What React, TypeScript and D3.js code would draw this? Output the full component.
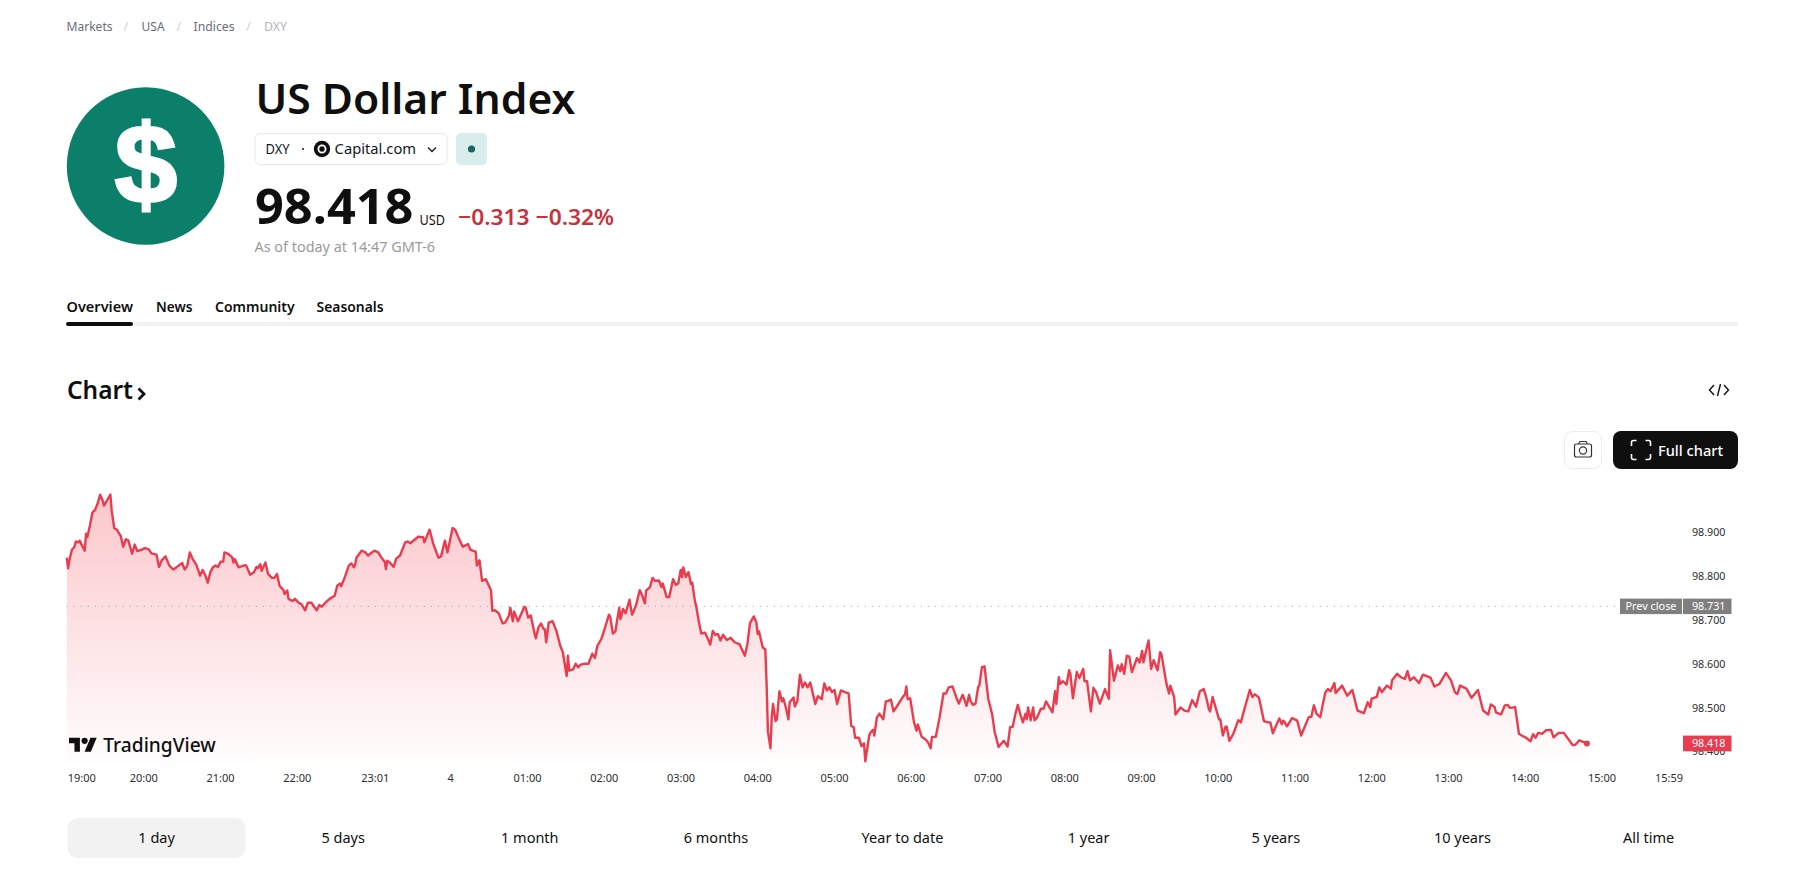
import React from 'react';
import * as d3 from 'd3';

const evening: [number, number][] = [[0,98.842],[1,98.818],[2,98.836],[4,98.860],[6,98.867],[7,98.879],[9,98.877],[10,98.881],[12,98.869],[14,98.858],[15,98.897],[16,98.889],[18,98.915],[20,98.945],[22,98.951],[24,98.965],[26,98.986],[28,98.972],[29,98.961],[32,98.976],[34,98.986],[35,98.950],[37,98.910],[39,98.906],[42,98.892],[44,98.867],[46,98.884],[48,98.881],[51,98.851],[53,98.872],[55,98.857],[58,98.860],[61,98.864],[64,98.861],[66,98.852],[70,98.849],[72,98.821],[74,98.836],[77,98.845],[80,98.824],[83,98.815],[86,98.821],[90,98.830],[92,98.815],[94,98.824],[96,98.854],[98,98.840],[101,98.826],[104,98.801],[106,98.814],[108,98.802],[110,98.785],[112,98.809],[114,98.820],[116,98.824],[118,98.821],[120,98.833],[122,98.833],[123,98.854],[126,98.851],[129,98.843],[130,98.831],[131,98.839],[134,98.820],[139,98.825],[140,98.824],[143,98.803],[146,98.809],[148,98.821],[149,98.818],[151,98.827],[152,98.812],[155,98.831],[157,98.805],[160,98.796],[162,98.796],[164,98.805],[166,98.778],[169,98.768],[170,98.759],[172,98.767],[173,98.748],[176,98.743],[178,98.748],[181,98.739],[183,98.736],[186,98.722],[188,98.739],[191,98.739],[192,98.734],[195,98.722],[197,98.734],[199,98.730],[201,98.737],[205,98.748],[209,98.755],[211,98.778],[213,98.783],[214,98.777],[217,98.798],[220,98.824],[222,98.829],[224,98.820],[225,98.827],[226,98.842],[230,98.858],[233,98.854],[235,98.847],[238,98.854],[240,98.858],[243,98.854],[246,98.840],[248,98.833],[249,98.816],[250,98.835],[252,98.831],[255,98.821],[257,98.840],[260,98.847],[264,98.877],[266,98.879],[268,98.875],[273,98.887],[274,98.890],[278,98.889],[279,98.877],[283,98.906],[286,98.873],[290,98.842],[292,98.845],[295,98.881],[297,98.854],[301,98.910],[303,98.906],[305,98.892]];

const overnight: [number, number][] = [[307,98.879],[309,98.867],[313,98.873],[315,98.860],[319,98.856],[320,98.824],[322,98.836],[324,98.789],[327,98.793],[331,98.767],[332,98.721],[334,98.722],[337,98.715],[340,98.692],[342,98.694],[345,98.710],[346,98.728],[348,98.697],[349,98.719],[352,98.697],[354,98.710],[357,98.730],[358,98.728],[360,98.705],[362,98.710],[365,98.668],[366,98.658],[368,98.683],[370,98.692],[372,98.679],[373,98.679],[374,98.649],[376,98.694],[379,98.697],[382,98.675],[385,98.641],[387,98.626],[390,98.572],[391,98.618],[392,98.584],[395,98.587],[397,98.600],[399,98.592],[401,98.598],[404,98.600],[407,98.600],[410,98.623],[412,98.613],[414,98.641],[417,98.656],[420,98.683],[423,98.712],[424,98.707],[426,98.669],[428,98.674],[431,98.728],[432,98.702],[434,98.725],[436,98.715],[439,98.746],[441,98.712],[444,98.732],[447,98.768],[449,98.755],[451,98.738],[452,98.767],[455,98.775],[457,98.796],[459,98.789],[462,98.790],[464,98.775],[465,98.783],[468,98.752],[470,98.752],[473,98.793],[475,98.780],[477,98.783],[479,98.814],[480,98.798],[481,98.820],[483,98.798],[485,98.809],[487,98.782],[488,98.785],[490,98.744],[491,98.732],[493,98.698],[495,98.669],[498,98.671],[501,98.651],[502,98.644],[504,98.675],[506,98.666],[508,98.668],[510,98.653],[512,98.666],[515,98.654],[518,98.659],[521,98.649],[525,98.644],[529,98.618],[531,98.645],[533,98.692],[536,98.708],[538,98.694],[539,98.668],[540,98.674],[543,98.637],[545,98.633],[546,98.554],[547,98.446],[549,98.407],[550,98.477],[551,98.508],[553,98.469],[554,98.473],[556,98.537],[558,98.514],[559,98.521],[561,98.500],[563,98.473],[564,98.512],[567,98.523],[568,98.502],[570,98.515],[572,98.575],[574,98.546],[576,98.557],[578,98.546],[580,98.557],[584,98.508],[586,98.526],[589,98.519],[591,98.555],[593,98.539],[595,98.546],[597,98.535],[599,98.540],[601,98.508],[604,98.539],[607,98.535],[610,98.532],[612,98.458],[614,98.455],[615,98.431],[618,98.431],[620,98.412],[622,98.418],[623,98.377],[626,98.435]];

const morning: [number, number][] = [[627,98.443],[629,98.449],[630,98.436],[632,98.477],[634,98.486],[637,98.473],[639,98.514],[641,98.515],[643,98.518],[645,98.491],[648,98.504],[652,98.523],[654,98.530],[655,98.548],[656,98.519],[658,98.521],[661,98.466],[663,98.447],[664,98.461],[667,98.433],[670,98.427],[672,98.420],[674,98.407],[675,98.433],[678,98.433],[681,98.478],[684,98.532],[686,98.532],[688,98.546],[691,98.548],[694,98.523],[696,98.509],[699,98.529],[702,98.504],[704,98.529],[705,98.515],[707,98.506],[709,98.509],[711,98.546],[712,98.551],[714,98.592],[716,98.594],[719,98.519],[722,98.484],[724,98.443],[727,98.410],[731,98.424],[734,98.411],[736,98.455],[738,98.456],[740,98.484],[742,98.506],[744,98.484],[746,98.466],[748,98.486],[749,98.473],[750,98.500],[752,98.471],[754,98.500],[755,98.471],[757,98.477],[760,98.497],[762,98.497],[764,98.514],[767,98.499],[769,98.489],[771,98.537],[772,98.508],[774,98.569],[775,98.554],[777,98.560],[780,98.552],[782,98.585],[783,98.577],[785,98.521],[788,98.581],[790,98.567],[793,98.588],[794,98.560],[796,98.560],[799,98.491],[801,98.545],[803,98.535],[806,98.509],[810,98.542],[813,98.520],[814,98.631],[817,98.561],[820,98.596],[822,98.583],[823,98.599],[825,98.577],[827,98.618],[829,98.616],[831,98.581],[835,98.613],[837,98.603],[839,98.629],[840,98.603],[842,98.629],[844,98.653],[846,98.588],[848,98.608],[851,98.585],[853,98.626],[854,98.622],[858,98.554],[860,98.532],[861,98.550],[864,98.523],[865,98.484],[869,98.500],[872,98.493],[875,98.491],[878,98.517],[881,98.502],[884,98.537],[887,98.542],[889,98.523],[891,98.497],[892,98.491],[894,98.524],[897,98.493],[899,98.473],[900,98.473],[902,98.436],[904,98.456],[905,98.456],[907,98.424],[910,98.439],[914,98.471],[916,98.466],[919,98.499],[923,98.540],[925,98.524],[927,98.530],[930,98.523],[931,98.511],[934,98.469],[937,98.466],[939,98.466],[941,98.441],[944,98.462],[946,98.475],[948,98.462]];

const afternoon: [number, number][] = [[949,98.470],[950,98.467],[952,98.457],[956,98.476],[960,98.470],[963,98.436],[966,98.457],[969,98.478],[971,98.479],[973,98.505],[975,98.486],[978,98.478],[980,98.508],[982,98.535],[984,98.542],[986,98.537],[989,98.556],[990,98.533],[995,98.550],[999,98.527],[1003,98.540],[1007,98.493],[1012,98.487],[1015,98.512],[1017,98.501],[1018,98.520],[1022,98.524],[1024,98.546],[1026,98.535],[1030,98.550],[1033,98.543],[1034,98.562],[1038,98.577],[1041,98.569],[1044,98.565],[1046,98.583],[1048,98.562],[1051,98.569],[1055,98.556],[1058,98.575],[1064,98.568],[1067,98.548],[1071,98.554],[1076,98.579],[1080,98.562],[1083,98.535],[1085,98.531],[1087,98.550],[1092,98.543],[1096,98.522],[1101,98.540],[1105,98.493],[1109,98.484],[1111,98.507],[1114,98.501],[1115,98.489],[1119,98.484],[1122,98.505],[1124,98.506],[1126,98.499],[1130,98.501],[1133,98.440],[1135,98.436],[1138,98.432],[1142,98.423],[1144,98.439],[1146,98.431],[1148,98.442],[1151,98.440],[1154,98.448],[1158,98.449],[1160,98.432],[1164,98.442],[1168,98.442],[1175,98.414],[1177,98.415],[1180,98.425],[1186,98.418]];

const series = [...evening, ...overnight, ...morning, ...afternoon];
const prevClose = 98.731;
const lastPrice = 98.418;
const priceTicks = [98.9, 98.8, 98.7, 98.6, 98.5, 98.4];
const timeTicks: [string, number][] = [['19:00',0],['20:00',60],['21:00',120],['22:00',180],['23:01',241],['4',300],['01:00',360],['02:00',420],['03:00',480],['04:00',540],['05:00',600],['06:00',660],['07:00',720],['08:00',780],['09:00',840],['10:00',900],['11:00',960],['12:00',1020],['13:00',1080],['14:00',1140],['15:00',1200],['15:59',1259]];
const rangeTabs: [string, number][] = [['1 day',156.6],['5 days',343.2],['1 month',529.8],['6 months',716],['Year to date',902.5],['1 year',1088.6],['5 years',1275.8],['10 years',1462.4],['All time',1648.6]];
const crumbs: [string, number, number][] = [['Markets',66.5,46],['USA',141.6,23],['Indices',193.6,41],['DXY',264,23]];
const navTabs: [string, number, number][] = [['Overview',66.5,66.5],['News',156,36.5],['Community',215,79.7],['Seasonals',316.6,67]];

const FONT = '"Noto Sans", sans-serif';
const x = d3.scaleLinear().domain([0, 1186]).range([66.8, 1586.9]);
const y = d3.scaleLinear().domain([98.9, 98.4]).range([532.3, 751.3]);
const tickX = d3.scaleLinear().domain([60, 1200]).range([143.7, 1602]);
const BASE = 772;
const line = d3.line<[number, number]>().x(d => x(d[0])).y(d => y(d[1]));
const area = d3.area<[number, number]>().x(d => x(d[0])).y0(BASE).y1(d => y(d[1]));
const RED = '#ea3c4f';

function T({ x: tx, y: ty, s, w, size, weight = 400, fill = '#131722', anchor = 'start', family = FONT }: any) {
  return (
    <text x={tx} y={ty} fontSize={size} fontWeight={weight} fill={fill} textAnchor={anchor} fontFamily={family}
      {...(w ? { textLength: w, lengthAdjust: 'spacingAndGlyphs' } : {})}>{s}</text>
  );
}

export default function App() {
  return (
    <svg width={1812} height={887} style={{ position: 'fixed', left: 0, top: 0, background: '#fff' }}>
      <defs>
        <linearGradient id="fade" gradientUnits="userSpaceOnUse" x1="0" x2="0" y1="495" y2={BASE}>
          <stop offset="0" stopColor="#f23645" stopOpacity="0.28" />
          <stop offset="1" stopColor="#f23645" stopOpacity="0" />
        </linearGradient>
      </defs>

      {crumbs.map(([s, cx, w]) => <T key={s} x={cx} y={31} s={s} w={w} size={13} fill={s === 'DXY' ? '#b2b5be' : '#6a6d78'} />)}
      {[126, 179, 248.5].map(v => <T key={v} x={v} y={31} s="/" size={13} fill="#d1d4dc" anchor="middle" />)}

      <circle cx={145.6} cy={166} r={78.8} fill="#0b7f6a" />
      <text x={146} y={203} fontSize={112} fontWeight={700} fill="#fff" stroke="#fff" strokeWidth={3} textAnchor="middle" fontFamily='"Liberation Sans", Arial, sans-serif'>$</text>

      <T x={255.4} y={114} s="US Dollar Index" w={320} size={42} weight={600} fill="#0f0f0f" />

      <rect x={255} y={133.5} width={192} height={31} rx={5} fill="#fff" stroke="#e9e9e9" />
      <T x={265.5} y={154} s="DXY" w={24} size={14} fill="#131722" />
      <circle cx={303} cy={149} r={1} fill="#131722" />
      <circle cx={322} cy={149} r={8.2} fill="#0f0f0f" />
      <circle cx={322} cy={149} r={3.6} fill="none" stroke="#fff" strokeWidth={1.8} />
      <T x={334.6} y={154} s="Capital.com" w={81.5} size={14} fill="#131722" />
      <path d="M428 147.5l4 4 4-4" fill="none" stroke="#131722" strokeWidth={1.3} />
      <rect x={456} y={133} width={31} height={32} rx={5} fill="#d9eeec" />
      <circle cx={471.5} cy={149} r={3.6} fill="#15675e" />

      <T x={255} y={224} s="98.418" w={158.5} size={48} weight={700} fill="#0f0f0f" />
      <T x={419.5} y={225} s="USD" w={25.5} size={14} fill="#0f0f0f" />
      <T x={458} y={225} s="−0.313 −0.32%" w={156} size={22} weight={600} fill="#c7323f" />
      <T x={254.5} y={251.5} s="As of today at 14:47 GMT-6" w={180.5} size={14} fill="#9a9a9a" />

      {navTabs.map(([s, tx, w]) => <T key={s} x={tx} y={312} s={s} w={w} size={14.5} weight={600} fill="#0f0f0f" />)}
      <rect x={66} y={322} width={1672} height={4} fill="#f2f2f2" rx={2} />
      <rect x={66} y={322} width={67} height={4} fill="#0f0f0f" rx={2} />

      <T x={67} y={399} s="Chart" w={66} size={26} weight={600} fill="#0f0f0f" />
      <path d="M138.5 388.500l5.500 5.500-5.500 5.500" fill="none" stroke="#0f0f0f" strokeWidth={2.8} />
      <path d="M1714 385l-4.500 5 4.500 5M1724 385l4.500 5-4.500 5M1717.500 396l3-12" fill="none" stroke="#0f0f0f" strokeWidth={1.4} />

      <rect x={1564.500} y={431.500} width={37} height={37} rx={8} fill="#fff" stroke="#ececec" />
      <rect x={1574.500} y={444} width={17} height={13} rx={2} fill="none" stroke="#333" strokeWidth={1.2} />
      <path d="M1578.500 444l1.500-2.500h6l1.500 2.500" fill="none" stroke="#333" strokeWidth={1.2} />
      <circle cx={1583} cy={450.500} r={3.600} fill="none" stroke="#333" strokeWidth={1.2} />
      <rect x={1613} y={431} width={125} height={38} rx={8} fill="#0f0f0f" />
      <path d="M1631.500 446v-3.500a2 2 0 0 1 2-2h3M1645.500 440.500h3a2 2 0 0 1 2 2v3.500M1650.500 454v3.500a2 2 0 0 1-2 2h-3M1636.500 459.500h-3a2 2 0 0 1-2-2v-3.500" fill="none" stroke="#fff" strokeWidth={1.6} />
      <T x={1658} y={456} s="Full chart" w={65} size={15} weight={500} fill="#fff" />

      <path d={area(series) ?? ''} fill="url(#fade)" />
      <line x1={66.8} x2={1620} y1={y(prevClose)} y2={y(prevClose)} stroke="#9a9a9a" strokeWidth={1} strokeDasharray="1 6" />
      <path d={line(series) ?? ''} fill="none" stroke={RED} strokeWidth={2.4} strokeLinejoin="round" />
      <circle cx={x(1186)} cy={y(lastPrice)} r={3} fill={RED} />

      {priceTicks.map(p => <T key={p} x={1692} y={y(p) + 4} s={p.toFixed(3)} w={33.5} size={11} fill="#2e2e2e" />)}
      <rect x={1620} y={598.600} width={62} height={15.500} fill="#7f7f7f" />
      <rect x={1683} y={598.600} width={48.500} height={15.500} fill="#7f7f7f" />
      <T x={1625.500} y={610.200} s="Prev close" w={51} size={11} fill="#fff" />
      <T x={1692} y={610.200} s={prevClose.toFixed(3)} w={33.500} size={11} fill="#fff" />
      <rect x={1683} y={735.600} width={48.500} height={15.700} fill={RED} />
      <T x={1692} y={747.200} s={lastPrice.toFixed(3)} w={33.500} size={11} fill="#fff" />

      {timeTicks.map(([s, m]) => (
        <T key={s} x={Math.min(1669, Math.max(81.7, tickX(m)))} y={782} s={s} size={11} fill="#2e2e2e" anchor="middle" />
      ))}

      <g transform="translate(69 734.600) scale(0.78)">
        <path d="M14 22H7V11H0V4h14v18zM28 22h-8l7.500-18h8L28 22z" fill="#0f0f0f" />
        <circle cx={20} cy={8} r={4} fill="#0f0f0f" />
      </g>
      <T x={103.300} y={751.700} s="TradingView" w={112.400} size={20} weight={500} fill="#0f0f0f" />

      <rect x={67.500} y={818} width={178} height={40} rx={10} fill="#f2f2f2" />
      {rangeTabs.map(([s, cx]) => <T key={s} x={cx} y={843} s={s} size={14.500} fill="#0f0f0f" anchor="middle" />)}
    </svg>
  );
}
